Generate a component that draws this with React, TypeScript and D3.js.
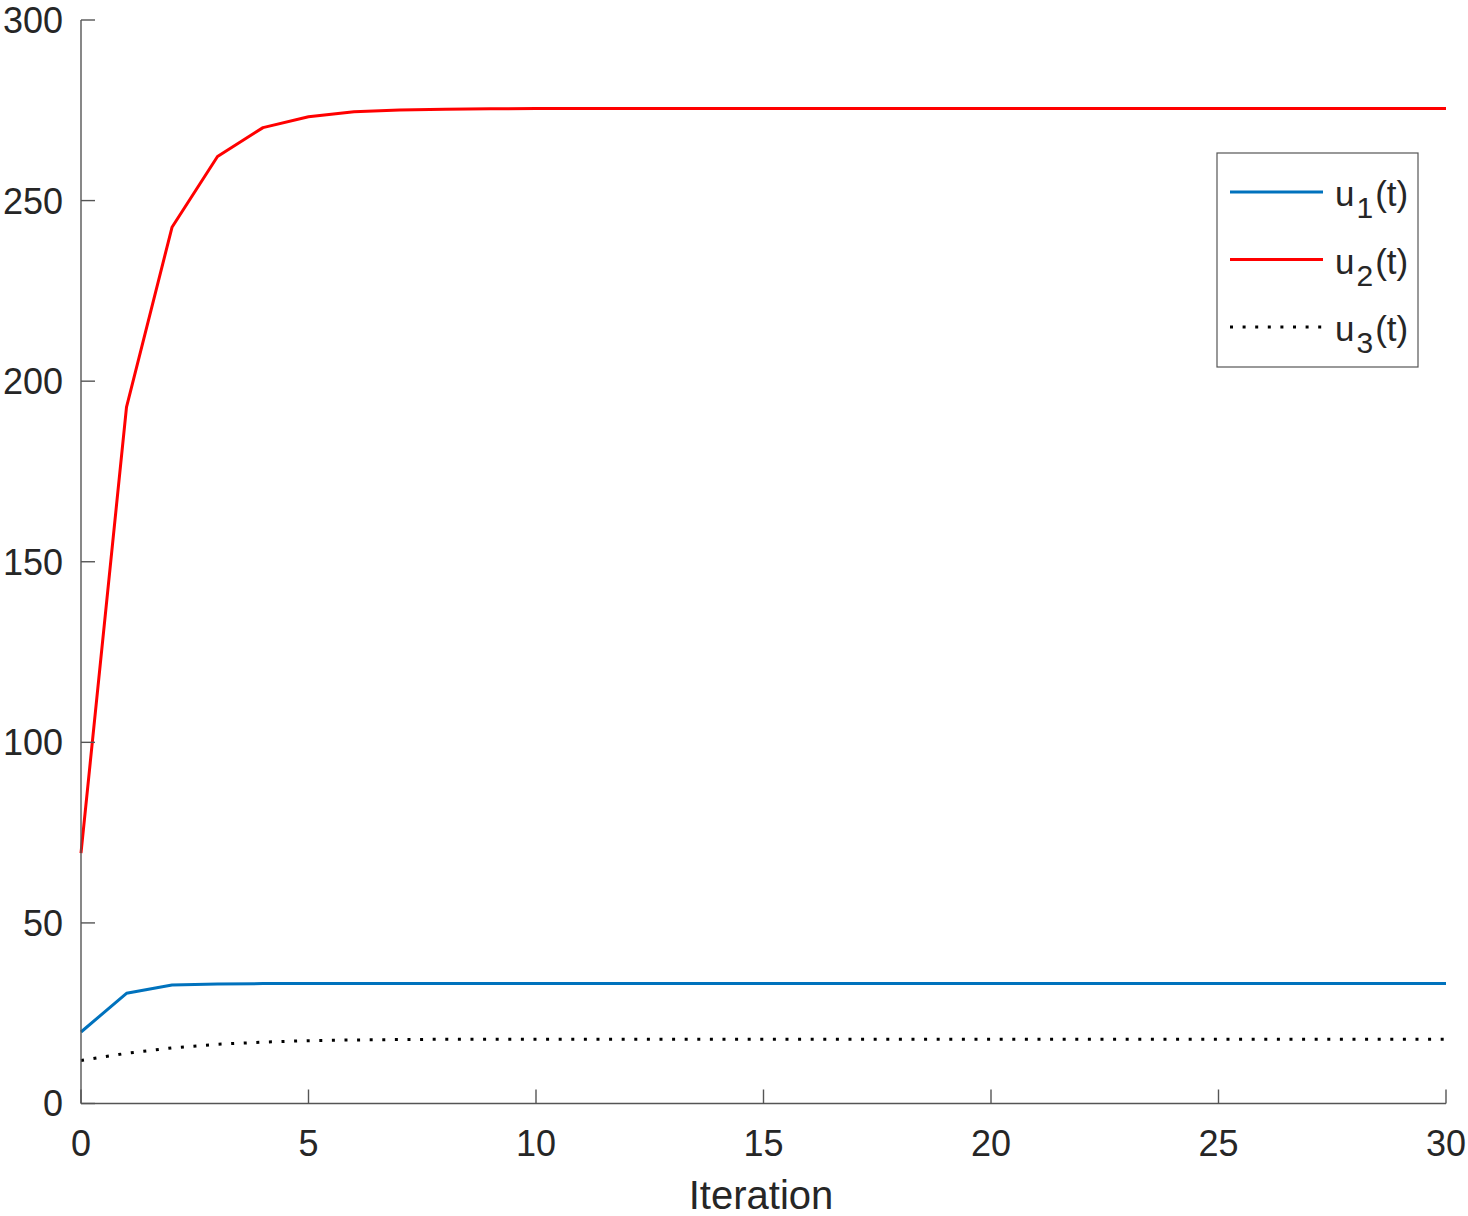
import React, { useEffect, useRef } from 'react';
import * as d3 from 'd3';

// iteration index 0..30
const iterations = d3.range(0, 31);

// u1(t)
const u1 = [19.8, 30.5, 32.8, 33.1, 33.2, 33.2, 33.2, 33.2, 33.2, 33.2, 33.2, 33.2, 33.2, 33.2, 33.2, 33.2,
    33.2, 33.2, 33.2, 33.2, 33.2, 33.2, 33.2, 33.2, 33.2, 33.2, 33.2, 33.2, 33.2, 33.2, 33.2];
// u2(t)
const u2 = [69.3, 192.8, 242.6, 262.2, 270.2, 273.2, 274.6, 275.1, 275.3, 275.4, 275.5, 275.5, 275.5, 275.5,
    275.5, 275.5, 275.5, 275.5, 275.5, 275.5, 275.5, 275.5, 275.5, 275.5, 275.5, 275.5, 275.5, 275.5, 275.5,
    275.5, 275.5];
// u3(t)
const u3 = [11.9, 13.9, 15.4, 16.4, 17.0, 17.4, 17.6, 17.7, 17.8, 17.8, 17.8, 17.8, 17.8, 17.8, 17.8, 17.8,
    17.8, 17.8, 17.8, 17.8, 17.8, 17.8, 17.8, 17.8, 17.8, 17.8, 17.8, 17.8, 17.8, 17.8, 17.8];

const xTicks = [0, 5, 10, 15, 20, 25, 30];
const yTicks = [0, 50, 100, 150, 200, 250, 300];
const seriesNames = ['1', '2', '3'];

const App = () => {
    const ref = useRef<SVGSVGElement>(null);

    useEffect(() => {
        const svg = d3.select(ref.current);
        svg.selectAll('*').remove();

        const font = 'Liberation Sans, Arial, Helvetica, sans-serif';
        const textColor = '#262626';
        const axisColor = '#555555';

        const x = d3.scaleLinear().domain([0, 30]).range([81, 1446]);
        const y = d3.scaleLinear().domain([0, 300]).range([1103.5, 20]);

        const g = svg.append('g');

        // lines
        const series = [
            { values: u1, color: '#0072BD', dash: null },
            { values: u2, color: '#FF0000', dash: null },
            { values: u3, color: '#000000', dash: '3 9.6' },
        ];
        const line = d3.line<number>()
            .x((d, i) => x(iterations[i]))
            .y(d => y(d));

        series.forEach(s => {
            g.append('path')
                .attr('d', line(s.values))
                .attr('fill', 'none')
                .attr('stroke', s.color)
                .attr('stroke-width', 3)
                .attr('stroke-dasharray', s.dash)
                .attr('stroke-linejoin', 'round');
        });

        // axes (left + bottom only, ticks pointing in)
        const axes = g.append('g').attr('stroke', axisColor).attr('stroke-width', 1.4);
        axes.append('line')
            .attr('x1', x(0)).attr('x2', x(0)).attr('y1', y(0)).attr('y2', y(300));
        axes.append('line')
            .attr('x1', x(0)).attr('x2', x(30)).attr('y1', y(0)).attr('y2', y(0));
        yTicks.forEach(t => {
            axes.append('line')
                .attr('x1', x(0)).attr('x2', x(0) + 14).attr('y1', y(t)).attr('y2', y(t));
        });
        xTicks.forEach(t => {
            axes.append('line')
                .attr('x1', x(t)).attr('x2', x(t)).attr('y1', y(0)).attr('y2', y(0) - 14);
        });

        // tick labels
        g.selectAll('.ylab')
            .data(yTicks)
            .enter()
            .append('text')
            .attr('x', 63)
            .attr('y', d => y(d))
            .attr('dy', '0.36em')
            .attr('text-anchor', 'end')
            .attr('font-family', font)
            .attr('font-size', 36)
            .attr('fill', textColor)
            .text(d => d);

        g.selectAll('.xlab')
            .data(xTicks)
            .enter()
            .append('text')
            .attr('x', d => x(d))
            .attr('y', 1156)
            .attr('text-anchor', 'middle')
            .attr('font-family', font)
            .attr('font-size', 36)
            .attr('fill', textColor)
            .text(d => d);

        g.append('text')
            .attr('x', 761)
            .attr('y', 1209)
            .attr('text-anchor', 'middle')
            .attr('font-family', font)
            .attr('font-size', 40)
            .attr('fill', textColor)
            .text('Iteration');

        // legend
        const legend = g.append('g');
        legend.append('rect')
            .attr('x', 1217)
            .attr('y', 153)
            .attr('width', 201)
            .attr('height', 214)
            .attr('fill', '#ffffff')
            .attr('stroke', axisColor)
            .attr('stroke-width', 1.2);

        const rowY = [192, 259.5, 327];
        series.forEach((s, i) => {
            legend.append('line')
                .attr('x1', 1230).attr('x2', 1323)
                .attr('y1', rowY[i]).attr('y2', rowY[i])
                .attr('stroke', s.color)
                .attr('stroke-width', 3)
                .attr('stroke-dasharray', s.dash);
            const txt = legend.append('text')
                .attr('x', 1335)
                .attr('y', rowY[i] + 14)
                .attr('font-family', font)
                .attr('font-size', 35)
                .attr('fill', textColor);
            txt.append('tspan').text('u');
            txt.append('tspan')
                .attr('font-size', 30)
                .attr('dx', 2)
                .attr('dy', 12)
                .text(seriesNames[i]);
            txt.append('tspan')
                .attr('dx', 2)
                .attr('dy', -12)
                .text('(t)');
        });
    }, []);

    return (
        <svg ref={ref}
             width={1468}
             height={1216}
             style={{ position: 'absolute', left: 0, top: 0, background: '#ffffff' }} />
    );
};

export default App;
